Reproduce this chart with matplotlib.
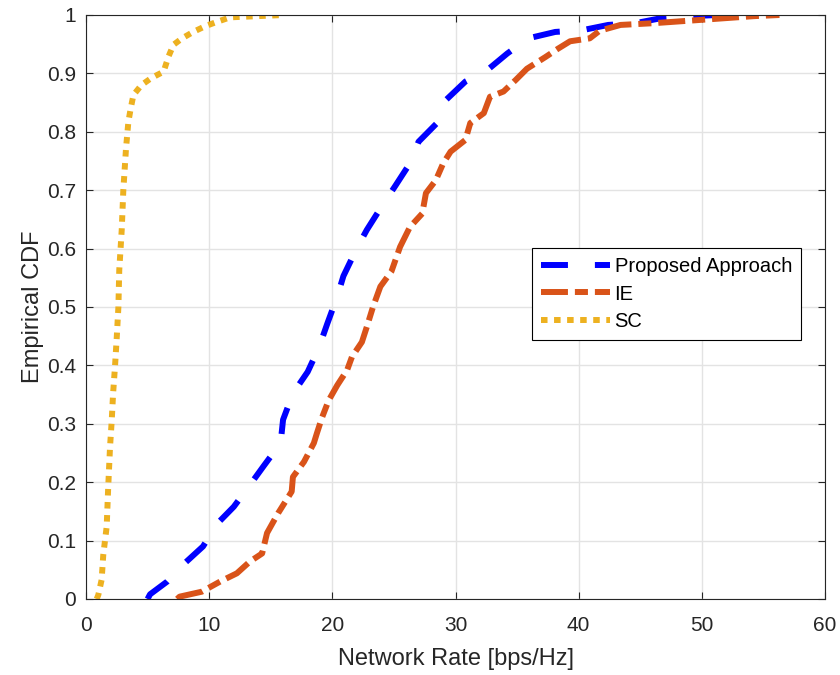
import matplotlib
matplotlib.use("Agg")
import matplotlib.pyplot as plt

plt.rcParams['font.family'] = ['Liberation Sans', 'DejaVu Sans']

# ---- data ----
pa_x = [5.0, 5.2, 6.6, 8.05, 9.5, 10.7, 12.0, 13.3, 14.4, 15.8, 16.0, 16.8, 18.0, 18.9, 19.6,
        20.4, 20.9, 22.0, 22.8, 24.0, 25.1, 26.3, 27.0, 28.5, 29.2, 30.8, 32.6, 34.2, 35.9,
        38.1, 40.3, 42.4, 44.6, 46.8, 49.0, 51.3, 53.3]
pa_y = [0.0, 0.008, 0.03, 0.062, 0.09, 0.13, 0.158, 0.195, 0.227, 0.267, 0.307, 0.352, 0.389,
        0.43, 0.472, 0.518, 0.553, 0.601, 0.632, 0.672, 0.707, 0.746, 0.783, 0.815, 0.854,
        0.886, 0.906, 0.934, 0.960, 0.971, 0.974, 0.983, 0.986, 0.995, 0.998, 1.0, 1.0]

ie_x = [7.4, 7.6, 9.4, 10.9, 12.25, 13.3, 14.3, 14.7, 15.6, 16.7, 16.8, 17.7, 18.5, 18.75,
        19.15, 19.7, 20.4, 21.2, 21.6, 22.4, 22.8, 23.3, 23.9, 24.8, 25.5, 26.3, 27.3, 27.6,
        28.4, 29.0, 29.6, 30.8, 31.2, 32.3, 32.8, 33.9, 34.9, 35.8, 37.3, 38.3, 39.3, 40.9,
        41.7, 43.4, 46.1, 48.8, 51.5, 54.2, 56.3]
ie_y = [0.0, 0.004, 0.0125, 0.03, 0.044, 0.064, 0.078, 0.113, 0.147, 0.184, 0.209, 0.235,
        0.267, 0.284, 0.31, 0.34, 0.366, 0.392, 0.415, 0.44, 0.466, 0.50, 0.535, 0.561,
        0.603, 0.637, 0.66, 0.695, 0.717, 0.746, 0.766, 0.786, 0.815, 0.832, 0.86, 0.869,
        0.889, 0.908, 0.928, 0.942, 0.955, 0.960, 0.973, 0.983, 0.986, 0.990, 0.994, 0.998, 1.0]

sc_x = [0.87, 1.0, 1.27, 1.4, 1.68, 1.8, 1.95, 2.09, 2.2, 2.36, 2.5, 2.63, 2.7, 2.9, 3.03,
        3.25, 3.44, 3.63, 3.85, 4.5, 5.3, 6.3, 6.7, 7.1, 7.8, 8.7, 9.7, 10.6, 11.7, 12.8,
        13.9, 16.0]
sc_y = [0.0, 0.007, 0.033, 0.075, 0.124, 0.19, 0.26, 0.306, 0.352, 0.40, 0.449, 0.50, 0.563,
        0.632, 0.70, 0.772, 0.817, 0.84, 0.863, 0.88, 0.892, 0.903, 0.929, 0.949, 0.96,
        0.971, 0.981, 0.988, 0.996, 0.997, 0.998, 1.0]

series_names = ['Proposed Approach', 'IE', 'SC']
x_ticks = [0, 10, 20, 30, 40, 50, 60]
y_ticks = [0, 0.1, 0.2, 0.3, 0.4, 0.5, 0.6, 0.7, 0.8, 0.9, 1]
y_tick_labels = ['0', '0.1', '0.2', '0.3', '0.4', '0.5', '0.6', '0.7', '0.8', '0.9', '1']

# ---- figure ----
plt.rcParams['lines.scale_dashes'] = False
fig = plt.figure(figsize=(8.4, 6.75), dpi=100)
ax = fig.add_axes([86/840, 1-599/675, (825-86)/840, (599-15)/675])

axcol = '#262626'
lw = 4.3
ax.plot(pa_x, pa_y, color=(0, 0, 1), lw=lw, linestyle=(0, (19.4, 19.4)),
        dash_capstyle='butt', label=series_names[0])
ax.plot(ie_x, ie_y, color='#D95319', lw=lw, linestyle=(0, (19.4, 5.0, 9.4, 5.0)),
        dash_capstyle='butt', label=series_names[1])
ax.plot(sc_x, sc_y, color='#EDB120', lw=lw, linestyle=(0, (4.7, 4.7)),
        dash_capstyle='butt', label=series_names[2])

ax.set_xlim(0, 60)
ax.set_ylim(0, 1)
ax.set_xticks(x_ticks)
ax.set_yticks(y_ticks)
ax.set_yticklabels(y_tick_labels)
ax.grid(True, color='#e3e3e3', linewidth=1.0)
ax.set_axisbelow(True)
for s in ax.spines.values():
    s.set_color(axcol)
    s.set_linewidth(0.8)
ax.tick_params(direction='in', length=5, width=0.8, color=axcol, labelcolor=axcol,
               labelsize=15, top=True, right=True)
ax.tick_params(axis='x', pad=12.5)
ax.tick_params(axis='y', pad=7)

ax.set_xlabel('Network Rate [bps/Hz]', fontsize=17, color=axcol, labelpad=9)
ax.set_ylabel('Empirical CDF', fontsize=17, color=axcol, labelpad=2.5)

leg = ax.legend(loc='upper left', bbox_to_anchor=(0.6035, 0.601), borderaxespad=0,
                fontsize=14.5, handlelength=3.4, handletextpad=0.25, borderpad=0.45,
                labelspacing=0.42, fancybox=False, framealpha=1, edgecolor='black')
leg.get_frame().set_linewidth(0.8)

fig.savefig('out.png', dpi=100)
